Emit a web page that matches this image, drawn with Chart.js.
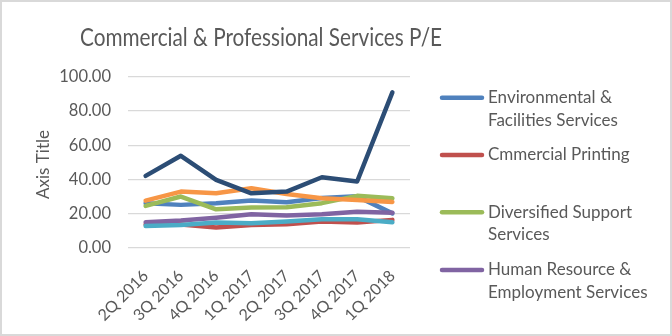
<!DOCTYPE html>
<html>
<head>
<meta charset="utf-8">
<script src="https://cdn.jsdelivr.net/npm/chart.js@4"></script>
<style>
  html, body { margin: 0; padding: 0; background: #fff; }
  #wrap { width: 672px; height: 336px; }
</style>
</head>
<body>
<div id="wrap"><canvas id="c" width="672" height="336"></canvas></div>
<script>
// Quarterly P/E by sub-industry
const categories = ['2Q 2016', '3Q 2016', '4Q 2016', '1Q 2017', '2Q 2017', '3Q 2017', '4Q 2017', '1Q 2018'];
const envFacilities      = [26.0, 25.0, 26.0, 27.5, 26.5, 29.0, 30.0, 20.0];
const commercialPrinting = [13.5, 13.5, 11.7, 13.2, 13.6, 15.2, 14.6, 16.2];
const diversifiedSupport = [24.4, 29.9, 22.4, 23.4, 23.6, 26.0, 30.3, 28.9];
const humanResource      = [14.8, 15.8, 17.5, 19.5, 18.7, 19.5, 21.0, 20.4];
const securityAlarm      = [12.6, 13.2, 14.6, 14.2, 15.2, 16.6, 16.6, 14.8];
const officeServices     = [27.5, 32.8, 31.8, 34.8, 31.4, 28.9, 27.9, 26.7];
const researchConsulting = [42.0, 53.8, 39.7, 31.8, 32.8, 41.2, 38.7, 91.0];
const yTicks = [0, 20, 40, 60, 80, 100];

const FONT = 'Lato, "Open Sans", sans-serif';
const TEXT = '#595959';

const seriesList = [
  { label: 'Environmental & Facilities Services', lines: ['Environmental &', 'Facilities Services'], data: envFacilities, color: '#4F81BD' },
  { label: 'Cmmercial Printing', lines: ['Cmmercial Printing'], data: commercialPrinting, color: '#C0504D' },
  { label: 'Diversified Support Services', lines: ['Diversified Support', 'Services'], data: diversifiedSupport, color: '#9BBB59' },
  { label: 'Human Resource & Employment Services', lines: ['Human Resource &', 'Employment Services'], data: humanResource, color: '#8064A2' },
  { label: 'Security & Alarm Services', lines: null, data: securityAlarm, color: '#4BACC6' },
  { label: 'Office Services & Supplies', lines: null, data: officeServices, color: '#F79646' },
  { label: 'Research & Consulting Services', lines: null, data: researchConsulting, color: '#2C4D75' }
];

const datasets = seriesList.map((s, i) => ({
  label: s.label,
  data: s.data,
  borderColor: s.color,
  backgroundColor: s.color,
  borderWidth: 4.5,
  borderCapStyle: 'round',
  borderJoinStyle: 'round',
  pointRadius: 0,
  tension: 0,
  fill: false,
  order: seriesList.length - i   // later series sit on top
}));

// Draws text squeezed horizontally to a given width (narrow title face)
function fitText(ctx, text, cx, y, width) {
  const w = ctx.measureText(text).width;
  const k = Math.min(1, width / w);
  ctx.save();
  ctx.translate(cx, y);
  ctx.scale(k, 1);
  ctx.fillText(text, 0, 0);
  ctx.restore();
}

// Title, rotated axis title, wrapped legend and frame
const decorations = {
  id: 'decorations',
  afterDraw(chart) {
    const ctx = chart.ctx;
    ctx.save();
    ctx.fillStyle = TEXT;

    ctx.font = '25px ' + FONT;
    ctx.textAlign = 'center';
    ctx.textBaseline = 'alphabetic';
    fitText(ctx, 'Commercial & Professional Services P/E', 261, 45.5, 362);

    ctx.save();
    ctx.font = '17px ' + FONT;
    ctx.translate(48.5, 164.5);
    ctx.rotate(-Math.PI / 2);
    ctx.fillText('Axis Title', 0, 0);
    ctx.restore();

    const rows = [[97.7, 120.3], [155], [212.3, 235], [270, 292.7]];
    ctx.font = '17px ' + FONT;
    ctx.textAlign = 'left';
    ctx.textBaseline = 'middle';
    seriesList.slice(0, 4).forEach((s, i) => {
      const ys = rows[i];
      ctx.strokeStyle = s.color;
      ctx.lineWidth = 4.5;
      ctx.lineCap = 'round';
      ctx.beginPath();
      ctx.moveTo(442, ys[0]);
      ctx.lineTo(482, ys[0]);
      ctx.stroke();
      s.lines.forEach((t, j) => ctx.fillText(t, 488, ys[j]));
    });

    ctx.strokeStyle = '#D9D9D9';
    ctx.lineWidth = 2;
    ctx.strokeRect(1, 1, 670, 334);
    ctx.restore();
  }
};

new Chart(document.getElementById('c'), {
  type: 'line',
  data: { labels: categories, datasets },
  options: {
    responsive: false,
    devicePixelRatio: 1,
    animation: false,
    layout: { padding: { top: 77, right: 262, left: 0, bottom: 0 } },
    plugins: {
      legend: { display: false },
      title: { display: false },
      tooltip: { enabled: false }
    },
    scales: {
      x: {
        offset: true,
        grid: { display: false },
        border: { display: false },
        ticks: {
          color: TEXT,
          font: { family: FONT, size: 16 },
          minRotation: 45,
          maxRotation: 45,
          padding: 11,
          autoSkip: false
        },
        afterFit(scale) { scale.height = 88.5; }
      },
      y: {
        min: 0,
        max: 100,
        afterBuildTicks(scale) { scale.ticks = yTicks.map(v => ({ value: v })); },
        grid: { color: '#D9D9D9', lineWidth: 1.3, drawTicks: false },
        border: { display: false },
        ticks: {
          color: TEXT,
          font: { family: FONT, size: 16.5 },
          padding: 17,
          callback: v => Number(v).toFixed(2)
        },
        afterFit(scale) { scale.width = 128; }
      }
    }
  },
  plugins: [decorations]
});
</script>
</body>
</html>
